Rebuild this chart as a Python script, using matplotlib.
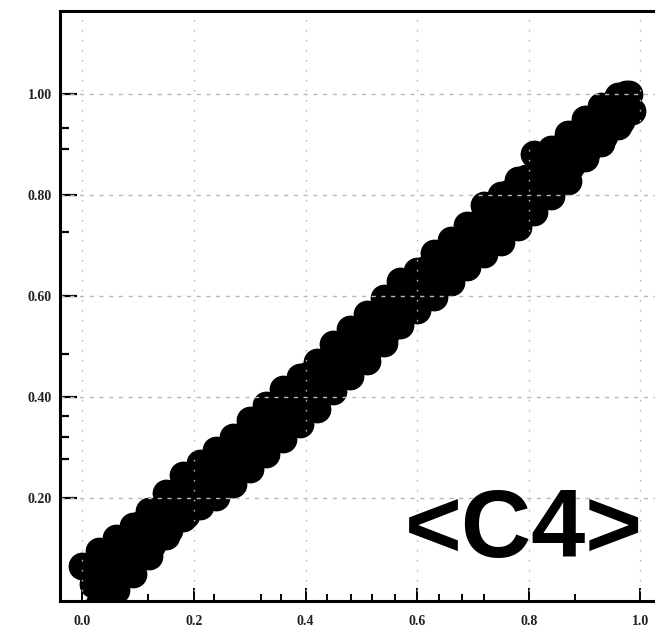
import matplotlib
matplotlib.use("Agg")
import matplotlib.pyplot as plt
from matplotlib.ticker import FixedLocator

# points, in rough lanes along the diagonal band
x_a = [0.00, 0.03, 0.06, 0.09, 0.12, 0.15, 0.18, 0.21, 0.24, 0.27, 0.30, 0.33,
       0.36, 0.39, 0.42, 0.45, 0.48, 0.51, 0.54, 0.57, 0.60, 0.63, 0.66, 0.69,
       0.72, 0.75, 0.78, 0.81, 0.84, 0.87, 0.90, 0.93, 0.96, 0.98]
y_a = [0.065, 0.095, 0.12, 0.145, 0.175, 0.21, 0.245, 0.27, 0.295, 0.32, 0.355, 0.385,
       0.415, 0.44, 0.47, 0.505, 0.535, 0.565, 0.595, 0.63, 0.65, 0.685, 0.71, 0.74,
       0.78, 0.80, 0.83, 0.88, 0.89, 0.92, 0.95, 0.975, 0.995, 1.00]

x_b = [0.015, 0.045, 0.075, 0.105, 0.135, 0.165, 0.195, 0.225, 0.255, 0.285, 0.315,
       0.345, 0.375, 0.405, 0.435, 0.465, 0.495, 0.525, 0.555, 0.585, 0.615, 0.645,
       0.675, 0.705, 0.735, 0.765, 0.795, 0.825, 0.855, 0.885, 0.915, 0.945, 0.975]
y_b = [0.053, 0.083, 0.108, 0.148, 0.173, 0.203, 0.233, 0.268, 0.288, 0.323, 0.353,
       0.383, 0.418, 0.443, 0.468, 0.503, 0.533, 0.563, 0.598, 0.623, 0.653, 0.683,
       0.708, 0.743, 0.773, 0.803, 0.833, 0.863, 0.893, 0.923, 0.948, 0.978, 1.00]

x_c = [0.02, 0.05, 0.08, 0.11, 0.14, 0.17, 0.20, 0.23, 0.26, 0.29, 0.32, 0.35,
       0.38, 0.41, 0.44, 0.47, 0.50, 0.53, 0.56, 0.59, 0.62, 0.65, 0.68, 0.71,
       0.74, 0.77, 0.80, 0.83, 0.86, 0.89, 0.92, 0.95, 0.97]
y_c = [0.03, 0.06, 0.085, 0.115, 0.15, 0.18, 0.205, 0.24, 0.265, 0.30, 0.33, 0.36,
       0.39, 0.42, 0.455, 0.48, 0.51, 0.545, 0.57, 0.60, 0.635, 0.66, 0.69, 0.72,
       0.75, 0.78, 0.815, 0.84, 0.87, 0.90, 0.93, 0.96, 0.985]

x_d = [0.035, 0.065, 0.095, 0.125, 0.155, 0.185, 0.215, 0.245, 0.275, 0.305, 0.335,
       0.365, 0.395, 0.425, 0.455, 0.485, 0.515, 0.545, 0.575, 0.605, 0.635, 0.665,
       0.695, 0.725, 0.755, 0.785, 0.815, 0.845, 0.875, 0.905, 0.935, 0.965]
y_d = [0.012, 0.047, 0.077, 0.107, 0.137, 0.167, 0.197, 0.222, 0.252, 0.282, 0.312,
       0.342, 0.377, 0.407, 0.437, 0.467, 0.497, 0.527, 0.562, 0.587, 0.617, 0.647,
       0.677, 0.702, 0.732, 0.762, 0.792, 0.822, 0.857, 0.887, 0.917, 0.947]

x_e = [0.03, 0.06, 0.09, 0.12, 0.15, 0.18, 0.21, 0.24, 0.27, 0.30, 0.33, 0.36,
       0.39, 0.42, 0.45, 0.48, 0.51, 0.54, 0.57, 0.60, 0.63, 0.66, 0.69, 0.72,
       0.75, 0.78, 0.81, 0.84, 0.87, 0.90, 0.93, 0.96, 0.985]
y_e = [-0.01, 0.017, 0.05, 0.085, 0.125, 0.16, 0.185, 0.202, 0.227, 0.257, 0.287, 0.317,
       0.347, 0.377, 0.412, 0.442, 0.472, 0.507, 0.542, 0.572, 0.597, 0.627, 0.657, 0.682,
       0.707, 0.737, 0.767, 0.797, 0.827, 0.872, 0.902, 0.937, 0.967]

x_major = [0.0, 0.2, 0.4, 0.6, 0.8, 1.0]
x_labels = ["0.0", "0.2", "0.4", "0.6", "0.8", "1.0"]
y_major = [0.2, 0.4, 0.6, 0.8, 1.0]
y_labels = ["0.20", "0.40", "0.60", "0.80", "1.00"]
x_minor = [0.118, 0.236, 0.320, 0.356, 0.438, 0.481, 0.519, 0.561, 0.639, 0.680, 0.719, 0.882]
y_minor = [0.277, 0.321, 0.362, 0.485, 0.727, 0.891, 0.933]

fig = plt.figure(figsize=(6.55, 6.32), dpi=100)
ax = fig.add_axes([60 / 655, 31 / 632, 610 / 655, 590 / 632])

xs = x_a + x_b + x_c + x_d + x_e
ys = y_a + y_b + y_c + y_d + y_e
ax.plot(xs, ys, linestyle="none", marker="o", markersize=19,
        color="black", markeredgecolor="black", zorder=2)

ax.set_xlim(-0.04, 1.053)
ax.set_ylim(-0.004, 1.164)

ax.xaxis.set_major_locator(FixedLocator(x_major))
ax.yaxis.set_major_locator(FixedLocator(y_major))
ax.xaxis.set_minor_locator(FixedLocator(x_minor))
ax.yaxis.set_minor_locator(FixedLocator(y_minor))
ax.set_xticklabels(x_labels)
ax.set_yticklabels(y_labels)

for lab in ax.get_xticklabels() + ax.get_yticklabels():
    lab.set_fontfamily("Liberation Serif")
    lab.set_fontweight("bold")
    lab.set_fontsize(10)
    lab.set_color("#222222")

ax.tick_params(axis="y", which="major", direction="in", length=12, width=1.6, pad=6)
ax.tick_params(axis="y", which="minor", direction="in", length=6.5, width=1.6)
ax.tick_params(axis="x", which="major", direction="in", length=9.5, width=1.4, pad=10)
ax.tick_params(axis="x", which="minor", direction="in", length=5, width=1.4)

# grid sits on top of the markers in the original
ax.grid(False)
for xv in x_major:
    ax.axvline(xv, color="#b8b8b8", linewidth=1.0, linestyle=(0, (1.2, 6)), zorder=3)
for yv in y_major:
    ax.axhline(yv, color="#b8b8b8", linewidth=1.0, linestyle=(0, (3, 4)), zorder=3)

for side in ["left", "bottom", "top", "right"]:
    ax.spines[side].set_linewidth(2.2)
    ax.spines[side].set_color("black")
    ax.spines[side].set_zorder(4)

fig.text(405 / 655, (632 - 557) / 632, "<C4>", fontsize=70, fontweight="bold",
         family="Liberation Sans", ha="left", va="baseline", color="black")

fig.savefig("out.png", dpi=100)
